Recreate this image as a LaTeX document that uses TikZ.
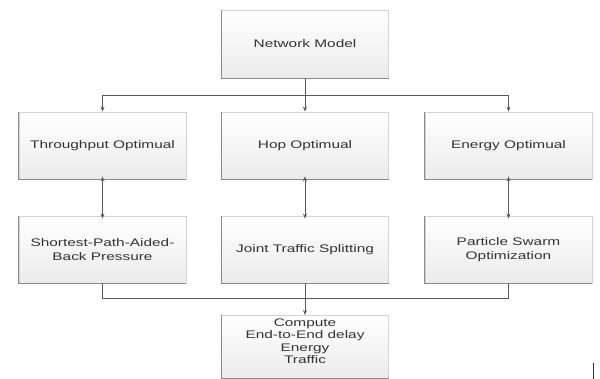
\documentclass[tikz,border=0pt]{standalone}
\usepackage{fontspec}
\setmainfont[FakeStretch=1.4]{Liberation Sans}
\usetikzlibrary{arrows.meta,calc}
\definecolor{edge}{HTML}{8A8A8A}
\definecolor{faint}{HTML}{D4D4D4}
\definecolor{linec}{HTML}{5A5A5A}
\definecolor{txt}{HTML}{333333}
\begin{document}
\begin{tikzpicture}[x=1pt,y=-1pt,
  box/.style={draw=faint, line width=0.8pt, top color=white, bottom color=black!8,
    minimum width=167pt, minimum height=67pt, inner sep=0pt, align=center,
    font=\fontsize{11}{13.5}\selectfont, text=txt},
  txtlabel/.style={inner sep=0pt, align=center, font=\fontsize{11}{12.5}\selectfont, text=txt},
  conn/.style={draw=linec, line width=0.9pt},
  arr/.style={-{Stealth[length=5pt,width=4pt]}},
  darr/.style={{Stealth[length=5pt,width=4pt]}-{Stealth[length=5pt,width=4pt]}},
  darkedge/.style={draw=edge, line width=1.1pt}]
\useasboundingbox (0,0) rectangle (600,379);
% boxes
\node[box, minimum height=68pt] (net) at (305,44) {Network Model};
\node[box] (tp)  at (102.5,145.5) {Throughput Optimual};
\node[box] (hop) at (305,145.5) {Hop Optimual};
\node[box] (en)  at (508.5,145.5) {Energy Optimual};
\node[box] (spb) at (102.5,249.5) {Shortest-Path-Aided-\\Back Pressure};
\node[box] (jts) at (305,249.5) {Joint Traffic Splitting};
\node[box] (pso) at (508.5,249.5) {Particle Swarm\\Optimization};
\node[box, minimum height=63pt, anchor=north] (comp) at (305,315) {};
\node[txtlabel] (comptxt) at (305,341) {Compute\\End-to-End delay\\Energy\\Traffic};
% darker left and bottom edges
\foreach \n in {net,tp,hop,en,spb,jts,pso,comp}
  \draw[darkedge] (\n.north west) -- (\n.south west) -- (\n.south east);
% connectors from Network Model
\draw[conn] (net.south) -- ++(0,17) coordinate (top);
\draw[conn,arr] (top) -- (hop.north);
\draw[conn,arr] (top) -| (tp.north);
\draw[conn,arr] (top) -| (en.north);
% double arrows
\draw[conn,darr] ([yshift=3pt]tp.south) -- ([yshift=-3pt]spb.north);
\draw[conn,darr] ([yshift=3pt]hop.south) -- ([yshift=-3pt]jts.north);
\draw[conn,darr] ([yshift=3pt]en.south) -- ([yshift=-3pt]pso.north);
% join to Compute
\coordinate (join) at ($(jts.south)+(0,15)$);
\draw[conn] (spb.south) |- (join) -| (pso.south);
\draw[conn,arr] (jts.south) -- (comp.north);
% stray mark
\coordinate (m1) at (593,363);
\coordinate (m2) at (593,379);
\draw[black!80, line width=1pt] (m1) -- (m2);
\end{tikzpicture}
\end{document}
